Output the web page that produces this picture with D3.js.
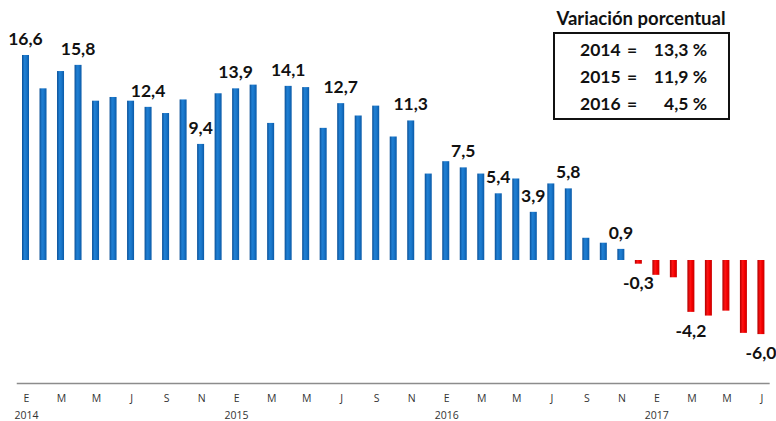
<!DOCTYPE html>
<html>
<head>
<meta charset="utf-8">
<script src="https://cdn.jsdelivr.net/npm/d3@7"></script>
<style>
  html, body { margin: 0; padding: 0; background: #fff; }
  svg { display: block; }
</style>
</head>
<body>
<div id="chart"></div>
<script>
// ---- data ----
const years = [2014, 2015, 2016, 2017];
const monthLetters = ["E","F","M","A","M","J","J","A","S","O","N","D"];
const values = [
  16.6, 13.9, 15.3, 15.8, 12.9, 13.2, 12.9, 12.4, 11.9, 13.0, 9.4, 13.5,   // 2014
  13.9, 14.2, 11.1, 14.1, 14.0, 10.7, 12.7, 11.7, 12.5, 10.0, 11.3, 7.0,   // 2015
  8.0, 7.5, 7.0, 5.4, 6.6, 3.9, 6.2, 5.8, 1.8, 1.4, 0.9, -0.3,             // 2016
  -1.2, -1.4, -4.2, -4.5, -4.1, -5.9, -6.0                                // 2017 (E-J)
];
const labeledIdx = [0, 3, 7, 10, 12, 15, 18, 22, 25, 27, 29, 31, 34, 35, 38, 42];
const legendTitle = "Variación porcentual";
const legendYears = ["2014", "2015", "2016"];
const legendValues = [13.3, 11.9, 4.5];

const fmt = v => v.toFixed(1).replace(".", ",");

const periods = values.map((v, i) => ({
  i, v,
  month: monthLetters[i % 12],
  year: years[Math.floor(i / 12)]
}));

// ---- layout ----
const W = 776, H = 421;
const svg = d3.select("#chart").append("svg").attr("width", W).attr("height", H);

const defs = svg.append("defs");
function grad(id, stops) {
  const g = defs.append("linearGradient").attr("id", id)
    .attr("x1", "0%").attr("x2", "100%").attr("y1", "0%").attr("y2", "0%");
  stops.forEach(([o, c]) => g.append("stop").attr("offset", o).attr("stop-color", c));
}
grad("gBlue", [["0%", "#0a4f96"], ["35%", "#1f7fd3"], ["60%", "#1a78cc"], ["100%", "#0a5aa8"]]);
grad("gRed", [["0%", "#b00000"], ["40%", "#ff1414"], ["65%", "#f50000"], ["100%", "#c80000"]]);

const x = d3.scaleBand()
  .domain(periods.map(d => d.i))
  .range([16.75, 16.75 + 43 * 17.51])
  .paddingInner(0.6)
  .paddingOuter(0.3);

const y = d3.scaleLinear().domain([-10, 18]).range([383.5, 37.7]);

// bars
svg.append("g").selectAll("rect").data(periods).join("rect")
  .attr("x", d => x(d.i))
  .attr("width", x.bandwidth())
  .attr("y", d => y(Math.max(0, d.v)))
  .attr("height", d => Math.abs(y(d.v) - y(0)))
  .attr("fill", d => d.v >= 0 ? "url(#gBlue)" : "url(#gRed)");

// value labels
const labelFont = "Lato, 'Open Sans', sans-serif";
svg.append("g").selectAll("text").data(labeledIdx.map(i => periods[i])).join("text")
  .attr("x", d => x(d.i) + x.bandwidth() / 2)
  .attr("y", d => d.v >= 0 ? y(d.v) - 10 : y(d.v) + 25)
  .attr("text-anchor", "middle")
  .attr("font-family", labelFont)
  .attr("font-weight", "bold")
  .attr("font-size", 17.5)
  .attr("fill", "#111")
  .text(d => fmt(d.v));

// x axis
const axisY = y(-10);
const xAxis = d3.axisBottom(x)
  .tickValues(periods.filter(d => d.i % 2 === 0).map(d => d.i))
  .tickSize(0)
  .tickPadding(11)
  .tickFormat(i => periods[i].month);
const ax = svg.append("g").attr("transform", `translate(0,${axisY})`).call(xAxis);
ax.select(".domain").attr("stroke", "#8c8c8c").attr("stroke-width", 1.5)
  .attr("d", `M${x.range()[0]},0H${x.range()[1]}`);
ax.selectAll(".tick text")
  .attr("font-family", "'Open Sans', Lato, sans-serif")
  .attr("font-size", 10.5)
  .attr("fill", "#333")
  .attr("dx", 1);

// year labels
svg.append("g").selectAll("text").data(periods.filter(d => d.i % 12 === 0)).join("text")
  .attr("x", d => x(d.i) + x.bandwidth() / 2 + 1)
  .attr("y", axisY + 35)
  .attr("text-anchor", "middle")
  .attr("font-family", "'Open Sans', Lato, sans-serif")
  .attr("font-size", 10.5)
  .attr("fill", "#333")
  .text(d => d.year);

// legend box
const lg = svg.append("g");
lg.append("text")
  .attr("x", 641).attr("y", 25)
  .attr("text-anchor", "middle")
  .attr("font-family", labelFont).attr("font-weight", "bold").attr("font-size", 18.5)
  .attr("fill", "#111")
  .text(legendTitle);
lg.append("rect")
  .attr("x", 554).attr("y", 33).attr("width", 175).attr("height", 86)
  .attr("fill", "#fff").attr("stroke", "#111").attr("stroke-width", 2);
legendYears.forEach((yr, k) => {
  const ty = 56 + k * 27;
  const common = t => t.attr("font-family", labelFont).attr("font-weight", "bold")
    .attr("font-size", 17.5).attr("fill", "#111").attr("y", ty);
  common(lg.append("text").attr("x", 580).text(yr));
  common(lg.append("text").attr("x", 632).attr("text-anchor", "middle").text("="));
  common(lg.append("text").attr("x", 707).attr("text-anchor", "end").text(fmt(legendValues[k]) + " %"));
});
</script>
</body>
</html>
